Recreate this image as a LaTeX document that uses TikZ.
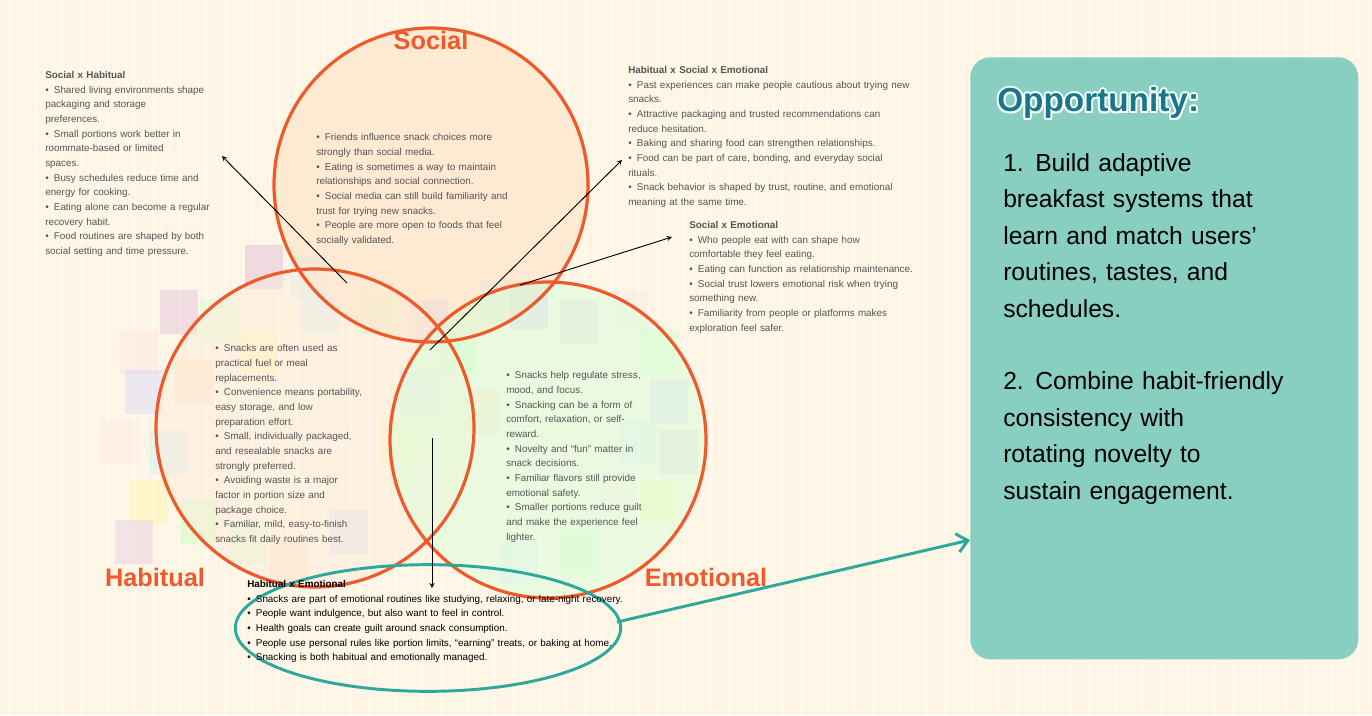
\documentclass[tikz,border=0pt]{standalone}
\usepackage{fontspec}
\setmainfont{Liberation Sans}
\usetikzlibrary{shapes.geometric,arrows.meta}
\begin{document}
\definecolor{bg}{HTML}{FEF5E4}
\definecolor{org}{HTML}{EE5A2B}
\definecolor{tealc}{HTML}{2EA89C}
\definecolor{boxc}{HTML}{88CFC2}
\definecolor{oppc}{HTML}{17788C}
\definecolor{txt}{HTML}{555555}
\newcommand\bi[1]{\par\hangindent=6.5pt\hangafter=1\noindent\makebox[6.5pt][l]{\textbullet}#1}
\newcommand\mytitle[1]{{\bfseries #1}}
\begin{tikzpicture}[x=0.75pt,y=-0.75pt,
  blk/.style={anchor=north west,align=left,inner sep=0pt,text=txt,font=\fontsize{7.4}{11}\selectfont,text width=#1},
  circ/.style={draw=org,line width=2.4pt},
  lab/.style={text=org,font=\fontsize{19}{22}\selectfont\bfseries},
  arr/.style={-stealth,line width=0.7pt,black},
  note/.style={fill=#1,opacity=0.35}]
\useasboundingbox (0,0) rectangle (1372,715);
\fill[bg] (0,0) rectangle (1372,715);
\foreach \i in {0,9,...,1368} \draw[white,opacity=0.45,line width=1.5pt] (\i,0) -- (\i,715);
% blurred sticky notes
\foreach \x/\y/\c in {245/245/violet!35,290/255/cyan!20,160/290/violet!30,200/300/green!20,120/330/pink!50,240/330/yellow!40,125/370/blue!20,175/360/orange!30,100/420/pink!40,150/430/cyan!25,130/480/yellow!40,180/500/green!25,115/520/violet!25,410/300/blue!20,440/330/green!25,480/280/cyan!25,510/285/blue!25,560/300/violet!25,610/290/pink!40,640/330/green!20,650/380/blue!20,620/420/cyan!20,660/430/violet!25,600/470/pink!40,640/480/yellow!40,560/530/green!25,500/540/cyan!20,420/480/pink!35,380/420/yellow!35,330/510/blue!20,270/540/orange!30,230/520/green!20,360/290/green!25,300/290/cyan!20,460/390/orange!30,400/370/blue!20} \fill[note=\c] (\x,\y) rectangle ++(38,44);
% circles
\fill[orange!25,opacity=0.5] (431,185) circle (157);
\fill[orange!15,opacity=0.45] (315,428) circle (159);
\fill[green!15,opacity=0.5] (548,440) circle (158);
\node[circ,circle,minimum size=235.5pt,inner sep=0pt] (soc) at (431,185) {};
\node[circ,circle,minimum size=238.5pt,inner sep=0pt] (hab) at (315,428) {};
\node[circ,circle,minimum size=237pt,inner sep=0pt] (emo) at (548,440) {};
\node[draw=tealc,line width=2.2pt,ellipse,minimum width=289pt,minimum height=95pt,inner sep=0pt] (he) at (428,628) {};
\node[lab] (ls) at (431,40) {Social};
\node[lab] (lh) at (155,577) {Habitual};
\node[lab] (le) at (706,577) {Emotional};
% opportunity box
\node[fill=boxc,rounded corners=15pt,minimum width=291pt,minimum height=451.5pt,anchor=north west,inner sep=0pt] (opp) at (970,57) {};
\foreach \dx/\dy in {-2/0,2/0,0/-2,0/2,-1.5/-1.5,1.5/1.5,-1.5/1.5,1.5/-1.5}
  \node[anchor=west,text=white,font=\fontsize{25}{28}\selectfont\bfseries,inner sep=0pt] at (997+\dx,103+\dy) {Opportunity:};
\node[anchor=west,text=oppc,font=\fontsize{25}{28}\selectfont\bfseries,inner sep=0pt] (ot) at (997,103) {Opportunity:};
\node[anchor=north west,inner sep=0pt,text width=245pt,align=left,font=\fontsize{18.5}{27.4}\selectfont] (ol) at (1003,153) {%
\hangindent=24pt\hangafter=1\noindent\makebox[24pt][l]{1.}Build adaptive\\ breakfast systems that\\ learn and match users’\\ routines, tastes, and\\ schedules.\par\vspace{27pt}
\hangindent=24pt\hangafter=1\noindent\makebox[24pt][l]{2.}Combine habit-friendly\\ consistency with\\ rotating novelty to\\ sustain engagement.};
% text blocks
\node[blk=150pt] (tsh) at (45,71) {\mytitle{Social x Habitual}
\bi{Shared living environments shape\\ packaging and storage\\ preferences.}
\bi{Small portions work better in\\ roommate-based or limited\\ spaces.}
\bi{Busy schedules reduce time and\\ energy for cooking.}
\bi{Eating alone can become a regular\\ recovery habit.}
\bi{Food routines are shaped by both\\ social setting and time pressure.}};
\node[blk=170pt] (tsoc) at (316,126) {%
\bi{Friends influence snack choices more\\ strongly than social media.}
\bi{Eating is sometimes a way to maintain\\ relationships and social connection.}
\bi{Social media can still build familiarity and\\ trust for trying new snacks.}
\bi{People are more open to foods that feel\\ socially validated.}};
\node[blk=250pt] (thse) at (628,66) {\mytitle{Habitual x Social x Emotional}
\bi{Past experiences can make people cautious about trying new\\ snacks.}
\bi{Attractive packaging and trusted recommendations can\\ reduce hesitation.}
\bi{Baking and sharing food can strengthen relationships.}
\bi{Food can be part of care, bonding, and everyday social\\ rituals.}
\bi{Snack behavior is shaped by trust, routine, and emotional\\ meaning at the same time.}};
\node[blk=220pt] (tse) at (689,221) {\mytitle{Social x Emotional}
\bi{Who people eat with can shape how\\ comfortable they feel eating.}
\bi{Eating can function as relationship maintenance.}
\bi{Social trust lowers emotional risk when trying\\ something new.}
\bi{Familiarity from people or platforms makes\\ exploration feel safer.}};
\node[blk=130pt] (thab) at (215,337) {%
\bi{Snacks are often used as\\ practical fuel or meal\\ replacements.}
\bi{Convenience means portability,\\ easy storage, and low\\ preparation effort.}
\bi{Small, individually packaged,\\ and resealable snacks are\\ strongly preferred.}
\bi{Avoiding waste is a major\\ factor in portion size and\\ package choice.}
\bi{Familiar, mild, easy-to-finish\\ snacks fit daily routines best.}};
\node[blk=130pt] (temo) at (506,364) {%
\bi{Snacks help regulate stress,\\ mood, and focus.}
\bi{Snacking can be a form of\\ comfort, relaxation, or self-\\ reward.}
\bi{Novelty and “fun” matter in\\ snack decisions.}
\bi{Familiar flavors still provide\\ emotional safety.}
\bi{Smaller portions reduce guilt\\ and make the experience feel\\ lighter.}};
\node[blk=320pt,text=black] (the) at (247,580) {\mytitle{Habitual x Emotional}
\bi{Snacks are part of emotional routines like studying, relaxing, or late-night recovery.}
\bi{People want indulgence, but also want to feel in control.}
\bi{Health goals can create guilt around snack consumption.}
\bi{People use personal rules like portion limits, “earning” treats, or baking at home.}
\bi{Snacking is both habitual and emotionally managed.}};
% arrows
\coordinate (a1) at (347,283); \coordinate (b1) at (222,156);
\coordinate (a2) at (430,350); \coordinate (b2) at (622,160);
\coordinate (a3) at (520,285); \coordinate (b3) at (672,237);
\coordinate (a4) at (432,438); \coordinate (b4) at (432,588);
\coordinate (a5) at (617,622); \coordinate (b5) at (970,540);
\draw[arr] (a1) -- (b1);
\draw[arr] (a2) -- (b2);
\draw[arr] (a3) -- (b3);
\draw[arr] (a4) -- (b4);
\draw[tealc,line width=2.2pt,-{Straight Barb[length=8pt,width=14pt]}] (a5) -- (b5);
\end{tikzpicture}
\end{document}
